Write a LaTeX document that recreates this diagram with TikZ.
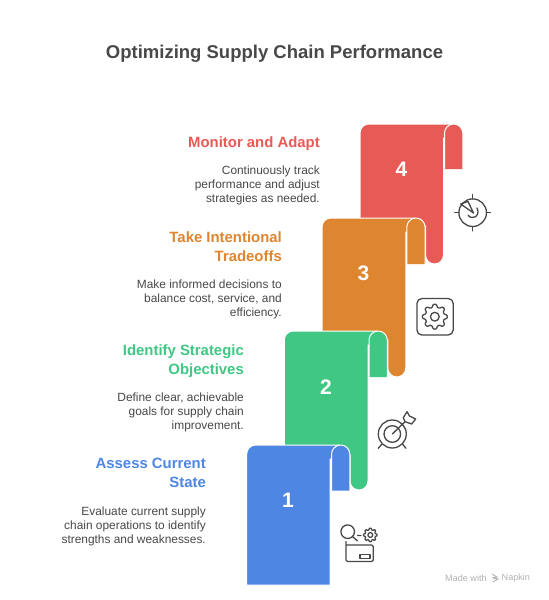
\documentclass[tikz,border=0pt]{standalone}
\usepackage{fontspec}
\setmainfont{Liberation Sans}
\definecolor{cred}{HTML}{E85A55}
\definecolor{corange}{HTML}{DE852F}
\definecolor{cgreen}{HTML}{3FC783}
\definecolor{cblue}{HTML}{4E86E4}
\definecolor{ink}{HTML}{484848}
\tikzset{
 titletext/.style={font=\bfseries\fontsize{18.5}{22}\selectfont,text=ink,inner sep=0pt},
 headtext/.style={font=\bfseries\fontsize{14.9}{19}\selectfont,align=right,anchor=north east,inner sep=0pt},
 bodytext/.style={font=\fontsize{11.9}{13.9}\selectfont,text=ink,align=right,anchor=north east,inner sep=0pt},
 numtext/.style={font=\bfseries\fontsize{21}{24}\selectfont,text=white,inner sep=0pt},
 icon/.style={draw=ink,line width=1.3pt,line cap=round,line join=round},
 edge/.style={draw=white,line width=1pt},
}
% L T R tabBottom bottom nextTop colour
\newcommand{\ribbon}[7]{%
 \path[edge,fill=#7] (#1,#6) [rounded corners=9pt] -- (#1,#2) [sharp corners] -- ({#3+9},#2) -- ({#3+9},{#2+14}) -- (#3,{#2+14})
   [rounded corners=9pt] -- (#3,#5) -- ({#3-18},#5) [sharp corners] -- ({#3-18},#6) -- cycle;
 \tabpart{#2}{#3}{#4}{#7}}
\newcommand{\tabpart}[4]{%
 \path[edge,fill=#4,rounded corners=9.2pt] ({#2+1},#3) -- ({#2+1},#1) -- ({#2+19.3},#1) -- ({#2+19.3},#3);}
\newcommand{\gearicon}[3]{%
 \draw[icon] plot[samples=121,domain=0:360,smooth] ({#1+(#3+#3*0.14*tanh(1.6*cos(8*\x)))*cos(\x)},{#2+(#3+#3*0.14*tanh(1.6*cos(8*\x)))*sin(\x)}) -- cycle;
 \draw[icon] (#1,#2) circle[radius=#3*0.4pt];}
\begin{document}
\begin{tikzpicture}[x=1pt,y=-1pt]
\useasboundingbox (0,0) rectangle (549,600);
\fill[white] (0,0) rectangle (549,600);
\node[titletext] (title) at (274.5,53.5) {Optimizing Supply Chain Performance};
\ribbon{360}{124}{443.5}{169}{264}{226}{cred}
\ribbon{322}{218}{405.8}{264}{377}{340}{corange}
\ribbon{284.3}{331}{368}{377}{490}{455}{cgreen}
\path[edge,fill=cblue] (246.7,585) [rounded corners=9pt] -- (246.7,445) [sharp corners] -- (339,445) -- (339,459) -- (330,459) -- (330,585) -- cycle;
\tabpart{445}{330.5}{490.7}{cblue}
\node[numtext] (n4) at (401.5,169.5) {4};
\node[numtext] (n3) at (363.5,273.5) {3};
\node[numtext] (n2) at (326,387.5) {2};
\node[numtext] (n1) at (288,500.5) {1};
\node[headtext,text=cred] (h4) at (320,136.5) {Monitor and Adapt};
\node[bodytext] (b4) at (320,166) {Continuously track\\performance and adjust\\strategies as needed.};
\node[headtext,text=corange] (h3) at (282,231) {Take Intentional\\Tradeoffs};
\node[bodytext] (b3) at (282,280) {Make informed decisions to\\balance cost, service, and\\efficiency.};
\node[headtext,text=cgreen] (h2) at (244,344) {Identify Strategic\\Objectives};
\node[bodytext] (b2) at (244,393) {Define clear, achievable\\goals for supply chain\\improvement.};
\node[headtext,text=cblue] (h1) at (206,458) {Assess Current\\State};
\node[bodytext] (b1) at (206,507) {Evaluate current supply\\chain operations to identify\\strengths and weaknesses.};
% clock-target icon
\draw[icon] (472.7,212.7) circle[radius=13.8pt];
\draw[icon] (472.7,194.5) -- (472.7,198.9) (472.7,226.5) -- (472.7,230.9) (454.8,212.7) -- (458.9,212.7) (486.5,212.7) -- (490.6,212.7);
\draw[icon] (473.5,213) -- (460.7,204) -- (468,201.5) -- cycle;
\draw[icon] (477,208) .. controls (479.5,212) and (477.5,218) .. (472,217.5) .. controls (470,217.5) and (469,216.5) .. (468,215);
% gear in frame
\draw[icon,rounded corners=5pt] (416.9,298.5) rectangle (453.2,335);
\gearicon{434.8}{316.7}{11}
% target icon
\draw[icon] (392.3,434) circle[radius=14pt] (392.3,434) circle[radius=8.3pt];
\draw[icon] (392.3,434) -- (405,421.7);
\draw[icon] (381.7,444.3) -- (378.3,448.3) (402.7,444.3) -- (406,448.3);
\draw[icon] (407,411.7) -- (409.5,416) -- (415.7,419) -- (411.7,424) -- (405,421.7) -- (403.3,417.7) -- cycle;
% analysis icon
\draw[icon] (347.7,531.7) circle[radius=6.8pt];
\draw[icon] (352.5,536.5) -- (357.5,541) (357.5,535.5) -- (361,535.5);
\gearicon{370.3}{535}{6}
\draw[icon,rounded corners=1.5pt] (346,541.5) -- (346,561.5) -- (373.3,561.5) -- (373.3,545) -- (346,545);
\draw[icon] (360,554.5) rectangle (370,558.5);
% watermark
\node[font=\fontsize{9.1}{10}\selectfont,text=black!30,anchor=west,inner sep=0pt] (w1) at (445,578) {Made with};
\draw[black!30,line width=0.9pt] (492,574) -- (497,577) -- (492,578) (493,578) -- (498,579) -- (493,582);
\node[font=\fontsize{9.1}{10}\selectfont,text=black!30,anchor=west,inner sep=0pt] (w2) at (501.5,578) {Napkin};
\end{tikzpicture}
\end{document}
